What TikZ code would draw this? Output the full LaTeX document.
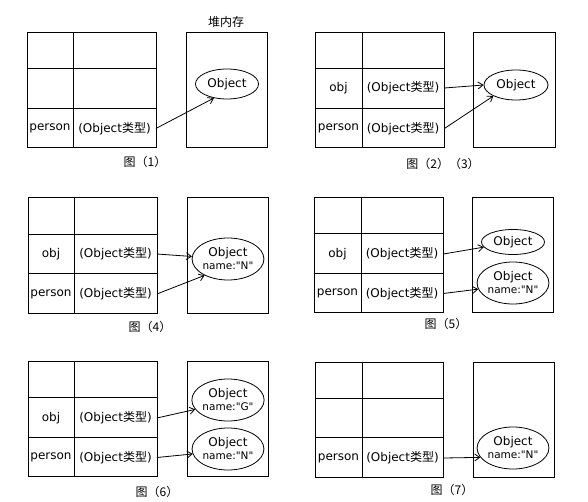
\documentclass[tikz,border=0pt]{standalone}
\usepackage{fontspec}
\setmainfont{DejaVu Sans}
\newfontfamily\cjk{Noto Sans CJK SC}
\usetikzlibrary{shapes.geometric,arrows.meta}
\tikzset{
  cell/.style={inner sep=0pt,minimum height=38bp,font=\fontsize{12bp}{14bp}\selectfont},
  keycell/.style={cell,minimum width=46bp},
  valcell/.style={cell,minimum width=82bp},
  heapobj/.style={draw,ellipse,inner sep=0pt,align=center,font=\fontsize{12bp}{13bp}\selectfont},
  caption/.style={font=\fontsize{12bp}{14bp}\selectfont\cjk},
  ref/.style={-{Straight Barb[length=5bp,width=7bp]}}
}
\newcommand{\namefield}[1]{{\fontsize{10.5bp}{11bp}\selectfont name:\textquotedbl#1\textquotedbl}}

\begin{document}
\begin{tikzpicture}[x=1bp,y=-1bp,line width=0.8bp]
\path[use as bounding box] (0,0) rectangle (588,502);
% (1)
\draw (27,32) rectangle (156,147);
\draw (73,32) -- (73,147) (27,68) -- (156,68) (27,108) -- (156,108);
\node[keycell] (k1p) at (50,128.5) {person};
\node[valcell] (v1p) at (114.5,128.5) {(Object{\cjk 类型})};
\draw (186,32) rectangle (267,147);
\node[caption] (heap1) at (226,22) {堆内存};
\node[heapobj,minimum width=63bp,minimum height=30bp] (o1) at (227,84) {Object};
\node[caption] (cap1) at (145,162) {图（1）};
\draw[ref] (v1p.east) -- (o1.227);
% (2)(3)
\draw (315,32) rectangle (444,147);
\draw (362,32) -- (362,147) (315,68) -- (444,68) (315,108) -- (444,108);
\node[keycell] (k2o) at (338.5,88) {obj};
\node[valcell] (v2o) at (403,88) {(Object{\cjk 类型})};
\node[keycell] (k2p) at (338.5,128.5) {person};
\node[valcell] (v2p) at (403,128.5) {(Object{\cjk 类型})};
\draw (473,32) rectangle (555,147);
\node[heapobj,minimum width=64bp,minimum height=30bp] (o2) at (516,85) {Object};
\node[caption] (cap2) at (443,164) {图（2）（3）};
\draw[ref] (v2o.east) -- (o2.west);
\draw[ref] (v2p.east) -- (o2.206);
% (4)
\draw (28,197) rectangle (157,313);
\draw (74,197) -- (74,313) (28,234) -- (157,234) (28,273) -- (157,273);
\node[keycell] (k4o) at (51,254) {obj};
\node[valcell] (v4o) at (115.5,254) {(Object{\cjk 类型})};
\node[keycell] (k4p) at (51,294) {person};
\node[valcell] (v4p) at (115.5,294) {(Object{\cjk 类型})};
\draw (187,197) rectangle (268,313);
\node[heapobj,minimum width=60bp,minimum height=42bp] (o4) at (228,259) {Object\\\namefield{N}};
\node[caption] (cap4) at (150,327) {图（4）};
\draw[ref] (v4o.east) -- (o4.176);
\draw[ref] (v4p.east) -- (o4.215);
% (5)
\draw (314,197) rectangle (443,312);
\draw (361,197) -- (361,312) (314,233) -- (443,233) (314,273) -- (443,273);
\node[keycell] (k5o) at (337.5,254) {obj};
\node[valcell] (v5o) at (402,254) {(Object{\cjk 类型})};
\node[keycell] (k5p) at (337.5,293.5) {person};
\node[valcell] (v5p) at (402,293.5) {(Object{\cjk 类型})};
\draw (472,197) rectangle (553,312);
\node[heapobj,minimum width=63bp,minimum height=25bp] (o5a) at (513,242) {Object};
\node[heapobj,minimum width=62bp,minimum height=42bp] (o5b) at (513,283) {Object\\\namefield{N}};
\node[caption] (cap5) at (446,324) {图（5）};
\draw[ref] (v5o.east) -- (o5a.190);
\draw[ref] (v5p.east) -- (o5b.190);
% (6)
\draw (28,361) rectangle (157,476);
\draw (74,361) -- (74,476) (28,397) -- (157,397) (28,437) -- (157,437);
\node[keycell] (k6o) at (51,418) {obj};
\node[valcell] (v6o) at (115.5,418) {(Object{\cjk 类型})};
\node[keycell] (k6p) at (51,457.5) {person};
\node[valcell] (v6p) at (115.5,457.5) {(Object{\cjk 类型})};
\draw (187,361) rectangle (268,476);
\node[heapobj,minimum width=60bp,minimum height=42bp] (o6a) at (228,400) {Object\\\namefield{G}};
\node[heapobj,minimum width=60bp,minimum height=42bp] (o6b) at (228,449) {Object\\\namefield{N}};
\node[caption] (cap6) at (157,492) {图（6）};
\draw[ref] (v6o.east) -- (o6a.196);
\draw[ref] (v6p.east) -- (o6b.188);
% (7)
\draw (315,362) rectangle (443,477);
\draw (362,362) -- (362,477) (315,398) -- (443,398) (315,437) -- (443,437);
\node[keycell] (k7p) at (338.5,458) {person};
\node[valcell] (v7p) at (402.5,458) {(Object{\cjk 类型})};
\draw (473,362) rectangle (554,477);
\node[heapobj,minimum width=61bp,minimum height=42bp] (o7) at (513,448) {Object\\\namefield{N}};
\node[caption] (cap7) at (452,490) {图（7）};
\draw[ref] (v7p.east) -- (o7.196);
\end{tikzpicture}
\end{document}
